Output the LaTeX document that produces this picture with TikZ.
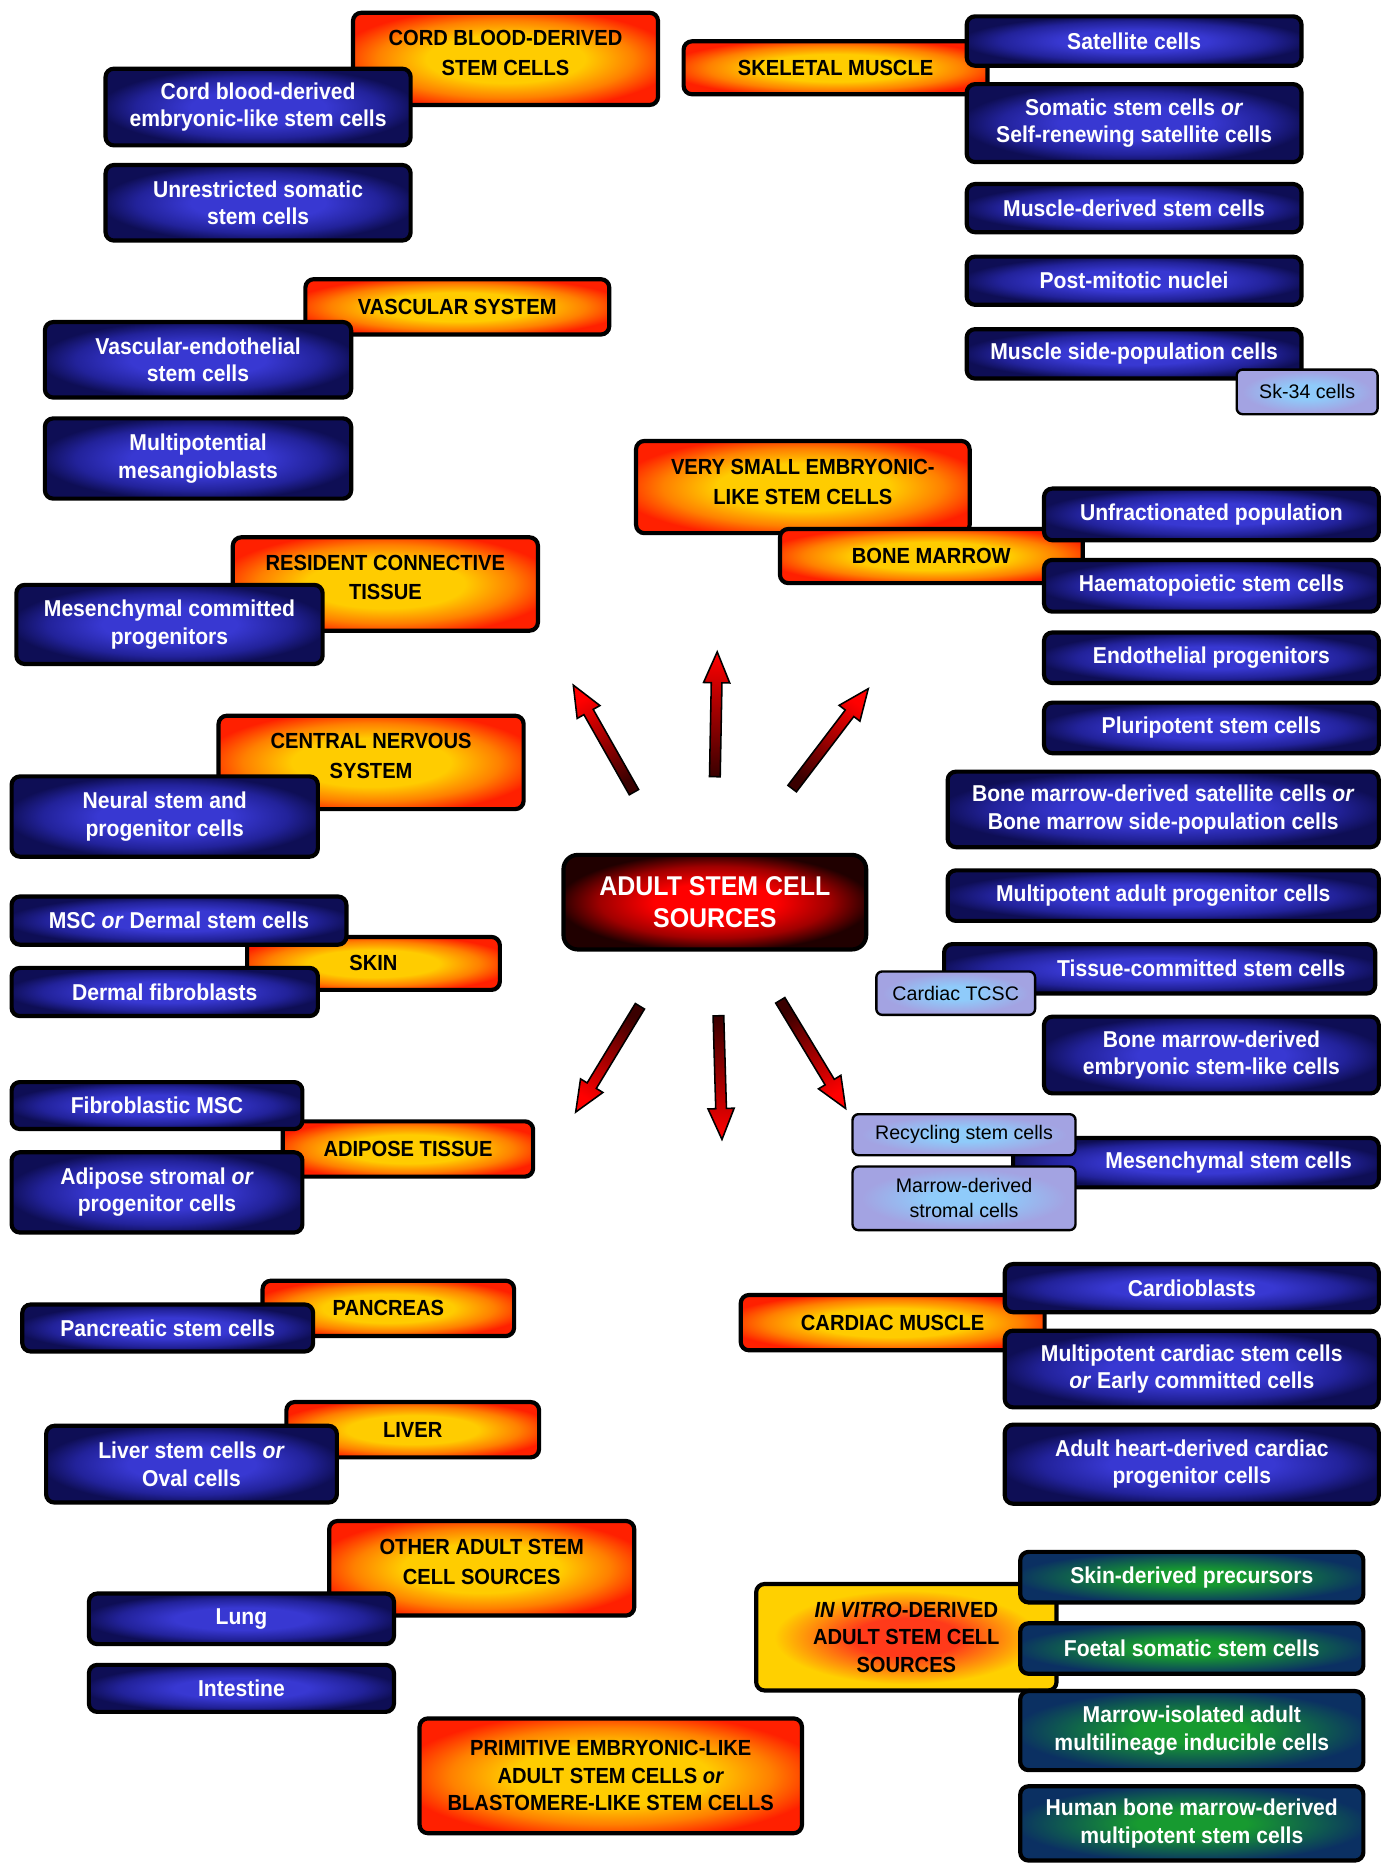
\documentclass[tikz,border=0pt]{standalone}
\usepackage{fontspec}
\setmainfont{Liberation Sans}[BoldFeatures={FakeStretch=0.92}, BoldItalicFeatures={FakeStretch=0.92}]
\usetikzlibrary{calc}
\definecolor{orgY}{HTML}{FFCC00}
\definecolor{orgM}{HTML}{FF8000}
\definecolor{orgR}{HTML}{FF2000}
\definecolor{bluI}{HTML}{3838D2}
\definecolor{bluM}{HTML}{22229A}
\definecolor{bluO}{HTML}{0E0E55}
\definecolor{lgtI}{HTML}{8FCBFA}
\definecolor{lgtO}{HTML}{A3A3E2}
\definecolor{grnI}{HTML}{179A30}
\definecolor{grnM}{HTML}{0F5A50}
\definecolor{grnO}{HTML}{0B3062}
\definecolor{vitI}{HTML}{FF3A1A}
\definecolor{vitO}{HTML}{FFD000}
\definecolor{ctrI}{HTML}{FF0000}
\definecolor{ctrM}{HTML}{A00000}
\definecolor{ctrO}{HTML}{200000}
\definecolor{arrR}{HTML}{FF0000}
\definecolor{arrD}{HTML}{3A0000}
\pgfdeclareradialshading{orgshade}{\pgfpoint{0bp}{0bp}}{color(0bp)=(orgY); color(13bp)=(orgY); color(21bp)=(orgM); color(28bp)=(orgR); color(50bp)=(orgR)}
\pgfdeclareradialshading{blushade}{\pgfpoint{0bp}{0bp}}{color(0bp)=(bluI); color(11bp)=(bluI); color(20bp)=(bluM); color(26bp)=(bluO); color(50bp)=(bluO)}
\pgfdeclareradialshading{grnshade}{\pgfpoint{0bp}{0bp}}{color(0bp)=(grnI); color(8bp)=(grnI); color(19bp)=(grnM); color(26bp)=(grnO); color(50bp)=(grnO)}
\pgfdeclareradialshading{vitshade}{\pgfpoint{0bp}{0bp}}{color(0bp)=(vitI); color(9bp)=(vitI); color(22bp)=(vitO); color(50bp)=(vitO)}
\pgfdeclareradialshading{ctrshade}{\pgfpoint{0bp}{0bp}}{color(0bp)=(ctrI); color(10bp)=(ctrI); color(19bp)=(ctrM); color(26bp)=(ctrO); color(50bp)=(ctrO)}
\pgfdeclareradialshading{lgtshade}{\pgfpoint{0bp}{0bp}}{color(0bp)=(lgtI); color(8bp)=(lgtI); color(23bp)=(lgtO); color(50bp)=(lgtO)}
\newcommand\fsz[2]{\fontsize{#1}{#2}\selectfont}
% #1 tail, #2 tip, #3 shading angle
\newcommand\fatarrow[3]{%
  \coordinate (#1n) at ($(#2)!26pt!(#1)$);
  \shade[draw=black, line width=1.3pt, line join=miter, top color=arrR, bottom color=arrD, shading angle=#3]
    ($(#1)!4.5pt!90:(#2)$) -- ($(#1n)!4.5pt!90:(#2)$) -- ($(#1n)!11pt!90:(#2)$) -- (#2)
    -- ($(#1n)!11pt!-90:(#2)$) -- ($(#1n)!4.5pt!-90:(#2)$) -- ($(#1)!4.5pt!-90:(#2)$) -- cycle;}
\tikzset{
  sz/.style 2 args={minimum width={#1-3.5}, minimum height={#2-3.5}},
  box/.style={rounded corners=7pt, draw=black, line width=3.5pt, align=center, inner sep=0pt},
  org/.style={box, shade, shading=orgshade, text=black, font=\fsz{18.4}{25}\bfseries},
  orgt/.style={text=black, align=center, font=\fsz{18.4}{25}\bfseries},
  blu/.style={box, shade, shading=blushade, text=white, font=\fsz{19.3}{23}\bfseries},
  blut/.style={text=white, align=center, font=\fsz{19.3}{23}\bfseries},
  lgt/.style={box, line width=2pt, rounded corners=5pt, shade, shading=lgtshade, text=black, font=\fsz{16.5}{21}},
  grn/.style={box, shade, shading=grnshade, text=white, font=\fsz{19.3}{23}\bfseries},
  vit/.style={box, shade, shading=vitshade, text=black, font=\fsz{18.4}{23}\bfseries},
  ctr/.style={box, rounded corners=12pt, shade, shading=ctrshade, text=white, font=\fsz{22.8}{27}\bfseries},
}
\begin{document}
\begin{tikzpicture}[x=1pt,y=-1pt]
\useasboundingbox (0,0) rectangle (1169,1568);
% ---------- orange source boxes ----------
\node[org, sz={260}{81}, label={[orgt,yshift=5pt]center:CORD BLOOD-DERIVED\\STEM CELLS}] (cord) at (425,49.5) {};
\node[org, sz={259}{48}] (skel) at (702.5,57) {SKELETAL MUSCLE};
\node[org, sz={259}{50}] (vasc) at (384.5,258) {VASCULAR SYSTEM};
\node[org, sz={284}{81}, label={[orgt,yshift=4pt]center:VERY SMALL EMBRYONIC-\\LIKE STEM CELLS}] (vsel) at (675,409.5) {};
\node[org, sz={258}{49}] (bm) at (783,467.5) {BONE MARROW};
\node[org, sz={260}{82}, label={[orgt,yshift=5.5pt]center:RESIDENT CONNECTIVE\\TISSUE}] (res) at (324,491) {};
\node[org, sz={260}{82}, label={[orgt,yshift=5.5pt]center:CENTRAL NERVOUS\\SYSTEM}] (cns) at (312,641) {};
\node[org, sz={216}{48}] (skin) at (314,810) {SKIN};
\node[org, sz={214}{50}] (adip) at (343,966) {ADIPOSE TISSUE};
\node[org, sz={215}{50}] (panc) at (326.5,1100) {PANCREAS};
\node[org, sz={216}{50}] (liver) at (347,1202) {LIVER};
\node[org, sz={260}{83}, label={[orgt,yshift=5pt]center:OTHER ADULT STEM\\CELL SOURCES}] (other) at (405,1318.5) {};
\node[org, sz={325}{100}, font=\fsz{18.4}{23}\bfseries] (prim) at (513.5,1493) {PRIMITIVE EMBRYONIC-LIKE\\ADULT STEM CELLS \textit{or}\\BLASTOMERE-LIKE STEM CELLS};
\node[org, sz={259}{50}] (card) at (750.5,1112) {CARDIAC MUSCLE};
\node[vit, sz={256}{93}] (vitro) at (762,1376.5) {\textit{IN VITRO}-DERIVED\\ADULT STEM CELL\\SOURCES};
% ---------- centre ----------
\node[ctr, sz={258}{83}] (centre) at (601,758.5) {ADULT STEM CELL\\SOURCES};
% ---------- blue boxes, left ----------
\node[blu, sz={260}{68}] (cbe) at (217,90) {Cord blood-derived\\embryonic-like stem cells};
\node[blu, sz={260}{67}] (uss) at (217,170.5) {Unrestricted somatic\\stem cells};
\node[blu, sz={261}{67}] (ves) at (166.5,302.5) {Vascular-endothelial\\stem cells};
\node[blu, sz={261}{71}] (mme) at (166.5,385.5) {Multipotential\\mesangioblasts};
\node[blu, sz={261}{70}] (mcp) at (142.5,525) {Mesenchymal committed\\progenitors};
\node[blu, sz={261}{71}] (nsp) at (138.5,686.5) {Neural stem and\\progenitor cells};
\node[blu, sz={285}{44}] (msc) at (150.5,774) {MSC \textit{or} Dermal stem cells};
\node[blu, sz={261}{44}] (dfb) at (138.5,834) {Dermal fibroblasts};
\node[blu, sz={248}{43}] (fmsc) at (132,929.5) {Fibroblastic MSC};
\node[blu, sz={248}{71}] (asp) at (132,1002.5) {Adipose stromal \textit{or}\\progenitor cells};
\node[blu, sz={248}{43}] (psc) at (141,1116.5) {Pancreatic stem cells};
\node[blu, sz={248}{68}] (lsc) at (161,1231) {Liver stem cells \textit{or}\\Oval cells};
\node[blu, sz={260}{46}] (lung) at (203,1361) {Lung};
\node[blu, sz={260}{43}] (intest) at (203,1419.5) {Intestine};
% ---------- blue boxes, right ----------
\node[blu, sz={285}{45}] (sat) at (953.5,34.5) {Satellite cells};
\node[blu, sz={285}{69}] (som) at (953.5,103.5) {Somatic stem cells \textit{or}\\Self-renewing satellite cells};
\node[blu, sz={285}{44}] (mds) at (953.5,175) {Muscle-derived stem cells};
\node[blu, sz={285}{44}] (pmn) at (953.5,236) {Post-mitotic nuclei};
\node[blu, sz={285}{45}] (msp) at (953.5,297.5) {Muscle side-population cells};
\node[blu, sz={285}{47}] (unf) at (1018.5,432.5) {Unfractionated population};
\node[blu, sz={285}{47}] (hsc) at (1018.5,492.5) {Haematopoietic stem cells};
\node[blu, sz={285}{46}] (endo) at (1018.5,553) {Endothelial progenitors};
\node[blu, sz={285}{46}] (plu) at (1018.5,612) {Pluripotent stem cells};
\node[blu, sz={366}{67}] (bmsat) at (978,680.5) {Bone marrow-derived satellite cells \textit{or}\\Bone marrow side-population cells};
\node[blu, sz={366}{46}] (mapc) at (978,753) {Multipotent adult progenitor cells};
\node[blu, sz={366}{45}, label={[blut,xshift=35pt]center:Tissue-committed stem cells}] (tcsc) at (975,814.5) {};
\node[blu, sz={285}{68}] (bmes) at (1018.5,887) {Bone marrow-derived\\embryonic stem-like cells};
\node[blu, sz={311}{45}, label={[blut,xshift=27.5pt]center:Mesenchymal stem cells}] (mesc) at (1005.5,977.5) {};
\node[blu, sz={318}{44}] (cbl) at (1002,1083) {Cardioblasts};
\node[blu, sz={318}{68}] (mcsc) at (1002,1151) {Multipotent cardiac stem cells\\\textit{or} Early committed cells};
\node[blu, sz={318}{70}] (ahd) at (1002,1231) {Adult heart-derived cardiac\\progenitor cells};
% ---------- green boxes ----------
\node[grn, sz={292}{46}] (skp) at (1002,1326) {Skin-derived precursors};
\node[grn, sz={292}{46}] (fss) at (1002,1386) {Foetal somatic stem cells};
\node[grn, sz={292}{70}] (miami) at (1002,1455) {Marrow-isolated adult\\multilineage inducible cells};
\node[grn, sz={292}{66}] (hbm) at (1002,1533) {Human bone marrow-derived\\multipotent stem cells};
% ---------- light boxes ----------
\node[lgt, sz={122}{41}] (sk34) at (1099,329.5) {Sk-34 cells};
\node[lgt, sz={137}{40}] (ctcsc) at (803.5,835) {Cardiac TCSC};
\node[lgt, sz={191}{38}] (rsc) at (810.5,954) {Recycling stem cells};
\node[lgt, sz={191}{57}] (mdsc) at (810.5,1007.5) {Marrow-derived\\stromal cells};
% ---------- arrows ----------
\coordinate (a1) at (533,666); \coordinate (b1) at (482,576);
\coordinate (a2) at (601,653); \coordinate (b2) at (603,548);
\coordinate (a3) at (666,663); \coordinate (b3) at (730,579);
\coordinate (a4) at (538,846); \coordinate (b4) at (484,935);
\coordinate (a5) at (604,854); \coordinate (b5) at (607,958);
\coordinate (a6) at (656,841); \coordinate (b6) at (711,932);
\fatarrow{a1}{b1}{29.5}
\fatarrow{a2}{b2}{-1}
\fatarrow{a3}{b3}{-37.3}
\fatarrow{a4}{b4}{148.8}
\fatarrow{a5}{b5}{-178.3}
\fatarrow{a6}{b6}{-148.9}
\end{tikzpicture}
\end{document}
